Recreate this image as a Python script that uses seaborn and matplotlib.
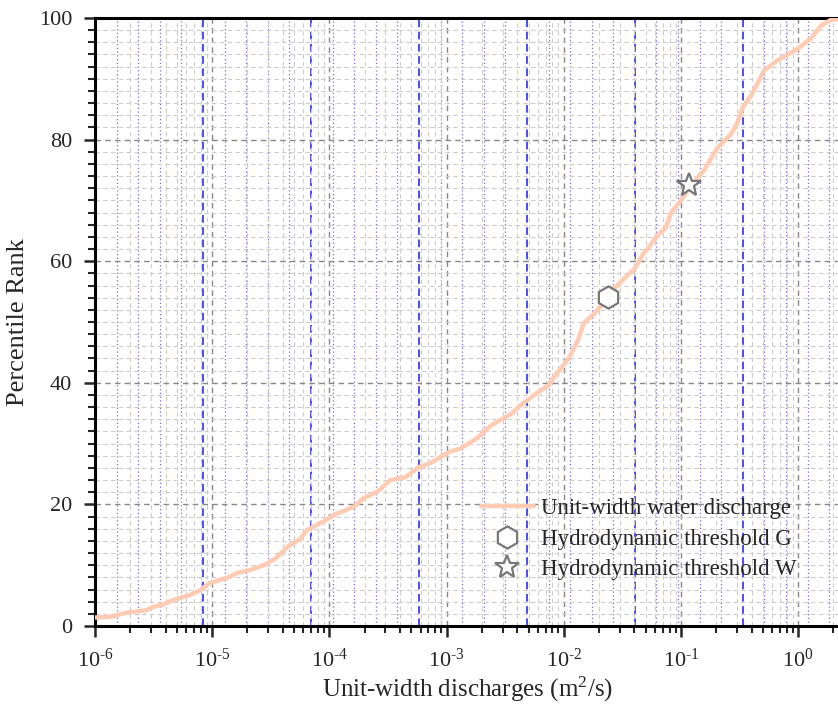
import numpy as np
import matplotlib
matplotlib.use("Agg")
import matplotlib.pyplot as plt
from matplotlib.ticker import LogLocator, MultipleLocator, NullFormatter, FuncFormatter
import seaborn as sns

# DATA
discharge = [1.00e-6, 1.35e-6, 1.86e-6, 2.75e-6, 3.16e-6, 3.72e-6, 4.68e-6, 6.46e-6,
             7.94e-6, 9.33e-6, 1.41e-5, 1.62e-5, 2.09e-5, 2.75e-5, 3.47e-5, 4.37e-5,
             5.62e-5, 6.46e-5, 8.91e-5, 1.10e-4, 1.62e-4, 1.95e-4, 2.57e-4, 3.31e-4,
             4.47e-4, 5.75e-4, 7.24e-4, 1.07e-3, 1.32e-3, 1.82e-3, 2.40e-3, 3.63e-3,
             4.27e-3, 5.89e-3, 7.41e-3, 8.32e-3, 1.10e-2, 1.32e-2, 1.48e-2, 1.82e-2,
             2.40e-2, 2.69e-2, 3.72e-2, 3.98e-2, 4.79e-2, 5.19e-2, 6.31e-2, 7.41e-2,
             8.22e-2, 1.00e-1, 1.20e-1, 1.58e-1, 2.04e-1, 2.69e-1, 3.02e-1, 3.39e-1,
             3.98e-1, 4.52e-1, 5.13e-1, 6.76e-1, 1.00, 1.29, 1.58, 1.91, 2.24]
percentile = [1.4, 1.5, 2.2, 2.6, 3.2, 3.45, 4.3, 5.1,
              5.9, 7.0, 8.1, 8.7, 9.2, 10.0, 11.1, 13.0,
              14.3, 15.8, 17.2, 18.3, 19.6, 21.0, 22.1, 24.0,
              24.5, 26.1, 26.8, 28.7, 29.2, 30.9, 33.0, 35.0,
              36.3, 38.3, 39.6, 41.0, 44.0, 47.0, 49.8, 51.4,
              54.0, 55.5, 58.2, 58.6, 61.3, 62.0, 64.3, 65.4,
              68.0, 70.0, 72.3, 75.0, 78.6, 81.0, 82.7, 85.4,
              87.3, 89.3, 91.4, 93.1, 95.0, 96.7, 98.8, 99.7, 99.8]

threshold_g = (0.0238, 54.1)
threshold_w = (0.117, 72.5)

# STYLE
sns.set_theme(style="white")
plt.rcParams['font.family'] = ['Liberation Serif', 'DejaVu Serif']
plt.rcParams['mathtext.fontset'] = 'custom'
plt.rcParams['mathtext.rm'] = 'Liberation Serif'
plt.rcParams['mathtext.it'] = 'Liberation Serif:italic'

fig = plt.figure(figsize=(8.38, 7.06), dpi=100)
ax = fig.add_axes([0.1134, 0.1133, 0.8880, 0.8612])

# SECONDARY (BLUE) GRID ON A TWIN AXIS
ax2 = ax.twiny()
ax2.set_xscale('log')
ax2.set_xlim(1e-7, 10 ** (-0.108))
ax2.xaxis.set_major_locator(LogLocator(base=10, numticks=20))
ax2.xaxis.set_minor_locator(LogLocator(base=10, subs=[10 ** 0.2, 10 ** 0.4, 10 ** 0.6, 10 ** 0.8], numticks=20))
ax2.grid(which='major', axis='x', color='#1a1aff', linestyle=(0, (5, 3)), linewidth=1.1)
ax2.grid(which='minor', axis='x', color='#3333cc', linestyle=(0, (1, 2)), linewidth=0.9, alpha=0.7)
ax2.tick_params(which='both', length=0, labeltop=False, labelbottom=False)
ax2.xaxis.set_major_formatter(NullFormatter())
ax2.xaxis.set_minor_formatter(NullFormatter())
for s in ax2.spines.values():
    s.set_visible(False)
ax2.set_zorder(ax.get_zorder() - 1)
ax.patch.set_visible(False)

# CURVE
sns.lineplot(x=discharge, y=percentile, ax=ax, color='#ffcbb3', linewidth=3.2,
             label='Unit-width water discharge', zorder=3)

# THRESHOLD MARKERS
ax.plot([threshold_g[0]], [threshold_g[1]], linestyle='none', marker='h', markersize=16,
        markerfacecolor='white', markeredgecolor='#777777', markeredgewidth=1.6,
        label='Hydrodynamic threshold G', zorder=4)
ax.plot([threshold_w[0]], [threshold_w[1]], linestyle='none', marker='*', markersize=18,
        markerfacecolor='white', markeredgecolor='#777777', markeredgewidth=1.6,
        label='Hydrodynamic threshold W', zorder=4)

# AXES
xmin, xmax = 1e-6, 10 ** 0.35
ax.set_xscale('log')
ax.set_xlim(xmin, xmax)
ax.set_ylim(0, 100)


def decade_label(v, pos):
    # only label decades inside the visible range
    if v < xmin * 0.999 or v > xmax:
        return ''
    return r'$\mathregular{10^{\text{%d}}}$' % int(round(np.log10(v)))


ax.xaxis.set_major_locator(LogLocator(base=10, numticks=20))
ax.xaxis.set_minor_locator(LogLocator(base=10, subs=np.arange(2, 10), numticks=20))
ax.xaxis.set_major_formatter(FuncFormatter(decade_label))
ax.xaxis.set_minor_formatter(NullFormatter())
ax.yaxis.set_major_locator(MultipleLocator(20))
ax.yaxis.set_minor_locator(MultipleLocator(2))

ax.grid(which='major', color='#888888', linestyle=(0, (4, 3)), linewidth=1.0)
ax.grid(which='minor', color='#cccccc', linestyle=(0, (4, 3)), linewidth=0.8)

ax.tick_params(which='major', direction='out', length=8, width=1.8, labelsize=16,
               bottom=True, left=True, top=False, right=False, pad=8.5)
ax.tick_params(which='minor', direction='out', length=5, width=1.5,
               bottom=True, left=True, top=False, right=False)

for name in ['left', 'bottom', 'top']:
    ax.spines[name].set_linewidth(2.2)
    ax.spines[name].set_color('black')
ax.spines['right'].set_visible(False)

ax.set_xlabel('Unit-width discharges (m$^2$/s)', fontsize=18, labelpad=2)
ax.set_ylabel('Percentile Rank', fontsize=19, labelpad=7)

leg = ax.legend(loc='lower right', bbox_to_anchor=(0.97, 0.042), frameon=False,
                fontsize=16.5, handlelength=2.3, labelspacing=0.4, handletextpad=0.3)

fig.savefig('out.png', dpi=100)
